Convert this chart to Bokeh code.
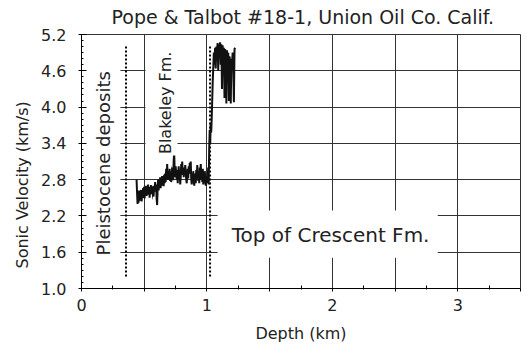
from bokeh.plotting import figure
from bokeh.models import Range1d, FixedTicker, PrintfTickFormatter, BoxAnnotation, Label, Title
from bokeh.embed import file_html
from bokeh.resources import INLINE

# Sonic log, Pope & Talbot #18-1 well: depth (km) vs. interval velocity (km/s)
depth_km = [
    0.439, 0.443, 0.447, 0.451, 0.455, 0.459, 0.463, 0.467, 0.471, 0.475,
    0.479, 0.483, 0.487, 0.491, 0.495, 0.499, 0.503, 0.507, 0.511, 0.515,
    0.519, 0.523, 0.527, 0.531, 0.535, 0.539, 0.543, 0.547, 0.551, 0.555,
    0.559, 0.563, 0.567, 0.571, 0.575, 0.579, 0.583, 0.587, 0.591, 0.595,
    0.599, 0.603, 0.607, 0.611, 0.615, 0.619, 0.623, 0.627, 0.631, 0.635,
    0.639, 0.643, 0.647, 0.651, 0.655, 0.659, 0.663, 0.667, 0.671, 0.675,
    0.679, 0.683, 0.687, 0.691, 0.695, 0.699, 0.703, 0.707, 0.711, 0.715,
    0.719, 0.723, 0.727, 0.731, 0.735, 0.739, 0.743, 0.747, 0.751, 0.755,
    0.759, 0.763, 0.767, 0.771, 0.775, 0.779, 0.783, 0.787, 0.791, 0.795,
    0.799, 0.803, 0.807, 0.811, 0.815, 0.819, 0.823, 0.827, 0.831, 0.835,
    0.839, 0.843, 0.847, 0.851, 0.855, 0.859, 0.863, 0.867, 0.871, 0.875,
    0.879, 0.883, 0.887, 0.891, 0.895, 0.899, 0.903, 0.907, 0.911, 0.915,
    0.919, 0.923, 0.927, 0.931, 0.935, 0.939, 0.943, 0.947, 0.951, 0.955,
    0.959, 0.963, 0.967, 0.971, 0.975, 0.979, 0.983, 0.987, 0.991, 0.995,
    1.000, 1.005, 1.010, 1.014, 1.018, 1.022, 1.026, 1.030, 1.034, 1.038,
    1.042, 1.046, 1.050, 1.055, 1.060, 1.065, 1.070, 1.075, 1.080, 1.085,
    1.090, 1.095, 1.100, 1.105, 1.110, 1.115, 1.120, 1.125, 1.130, 1.135,
    1.140, 1.145, 1.150, 1.155, 1.160, 1.165, 1.170, 1.175, 1.180, 1.185,
    1.190, 1.195, 1.200, 1.205, 1.210, 1.215, 1.220, 1.225,
]
velocity_kms = [
    2.80, 2.58, 2.40, 2.55, 2.42, 2.62, 2.45, 2.58, 2.48, 2.63,
    2.44, 2.57, 2.50, 2.66, 2.52, 2.68, 2.49, 2.62, 2.54, 2.70,
    2.53, 2.66, 2.58, 2.72, 2.55, 2.68, 2.50, 2.64, 2.57, 2.71,
    2.56, 2.69, 2.60, 2.66, 2.52, 2.70, 2.62, 2.76, 2.60, 2.72,
    2.48, 2.38, 2.65, 2.80, 2.62, 2.76, 2.68, 2.84, 2.66, 2.79,
    2.70, 2.86, 2.72, 2.82, 2.69, 2.88, 2.74, 2.90, 2.76, 2.98,
    2.80, 3.06, 2.86, 2.80, 2.94, 2.84, 2.98, 2.78, 2.92, 2.76,
    2.88, 2.82, 3.00, 2.79, 3.12, 3.24, 2.95, 2.84, 3.02, 2.88,
    2.80, 2.96, 2.74, 2.90, 3.02, 2.86, 2.92, 2.72, 2.84, 3.06,
    2.98, 3.10, 2.88, 2.96, 2.84, 3.00, 2.90, 3.04, 2.92, 2.80,
    2.74, 2.88, 2.98, 2.82, 3.02, 2.90, 3.08, 2.96, 3.10, 2.80,
    2.72, 2.86, 2.76, 2.94, 2.78, 2.70, 2.84, 2.90, 2.74, 2.96,
    2.82, 3.04, 2.88, 2.78, 2.92, 2.74, 3.00, 2.86, 3.06, 2.80,
    2.92, 2.76, 2.98, 2.72, 2.86, 2.76, 2.94, 2.78, 2.70, 2.84,
    2.84, 2.74, 3.00, 2.72, 3.30, 3.62, 3.40, 3.74, 3.58, 3.80,
    4.10, 4.40, 4.62, 4.90, 4.70, 4.98, 4.64, 5.00, 4.88, 5.06,
    4.60, 5.04, 4.92, 5.07, 4.70, 5.04, 4.30, 5.02, 4.85, 4.98,
    4.15, 4.96, 4.88, 4.06, 4.94, 4.80, 4.90, 4.10, 4.84, 4.75,
    4.06, 4.80, 4.72, 4.90, 4.60, 4.08, 4.96, 4.98,
]

# Formation boundaries picked on the log (dotted markers)
boundary_depth_km = [0.355, 1.025]
boundary_bottom_kms = [1.2, 1.2]
boundary_top_kms = [5.02, 5.02]

x_ticks = [0.0, 0.5, 1.0, 1.5, 2.0, 2.5, 3.0, 3.5]
x_tick_labels = ["0", "", "1", "", "2", "", "3", ""]
x_minor_ticks = [0.25, 0.75, 1.25, 1.75, 2.25, 2.75, 3.25]
y_ticks = [1.0, 1.6, 2.2, 2.8, 3.4, 4.0, 4.6, 5.2]
y_minor_ticks = [round(1.0 + 0.1 * i, 1) for i in range(43)]

FONT = "DejaVu Sans"
INK = "#222222"
GRID = "#333333"

p = figure(
    width=532, height=356,
    x_range=Range1d(0, 3.5), y_range=Range1d(1.0, 5.2),
    output_backend="svg", toolbar_location=None,
    min_border_left=81, min_border_right=12,
    min_border_top=34, min_border_bottom=68,
    background_fill_color="white", border_fill_color="white",
)
p.outline_line_color = GRID
p.outline_line_width = 1

# title, placed from the left edge of the frame
p.title.text = "Pope & Talbot #18-1, Union Oil Co. Calif."
p.title.align = "left"
p.title.offset = 30
p.title.vertical_align = "top"
p.title.text_font = FONT
p.title.text_font_size = "19px"
p.title.text_font_style = "normal"
p.title.text_color = INK
p.title.standoff = 10

# vertical axis title as a side title so it can be shifted along the axis
p.add_layout(Title(text="Sonic Velocity (km/s)", align="left", offset=20,
                   text_font=FONT, text_font_size="16px", text_font_style="normal",
                   text_color=INK, standoff=14), "left")

# grid every 0.5 km and every 0.6 km/s
p.xgrid.ticker = FixedTicker(ticks=x_ticks)
p.ygrid.ticker = FixedTicker(ticks=y_ticks)
p.grid.grid_line_color = GRID
p.grid.grid_line_width = 1

# axes
p.xaxis.ticker = FixedTicker(ticks=x_ticks, minor_ticks=x_minor_ticks)
p.xaxis.major_label_overrides = dict(zip(x_ticks, x_tick_labels))
p.yaxis.ticker = FixedTicker(ticks=y_ticks, minor_ticks=y_minor_ticks)
p.yaxis.formatter = PrintfTickFormatter(format="%.1f")

p.axis.axis_line_color = "black"
p.axis.axis_line_width = 1
p.axis.major_tick_line_color = "black"
p.axis.minor_tick_line_color = "black"
p.axis.major_label_text_font = FONT
p.axis.major_label_text_font_size = "16px"
p.axis.major_label_text_color = INK

p.xaxis.axis_label = "Depth (km)"
p.xaxis.axis_label_text_font = FONT
p.xaxis.axis_label_text_font_size = "16px"
p.xaxis.axis_label_text_font_style = "normal"
p.xaxis.axis_label_text_color = INK
p.xaxis.axis_label_standoff = 10

p.xaxis.major_tick_in = 0
p.xaxis.major_tick_out = 3
p.xaxis.minor_tick_in = 3
p.xaxis.minor_tick_out = 1
p.xaxis.major_label_standoff = 7

p.yaxis.major_tick_in = 5
p.yaxis.major_tick_out = 3
p.yaxis.minor_tick_in = 2
p.yaxis.minor_tick_out = 0
p.yaxis.major_label_standoff = 12

# white panels behind the formation names
for l, r, b, t in [(0.0, 0.31, 1.05, 5.15), (0.51, 0.765, 3.2, 5.15), (1.085, 2.84, 1.51, 2.29)]:
    p.add_layout(BoxAnnotation(left=l, right=r, bottom=b, top=t,
                               fill_color="white", fill_alpha=1.0,
                               line_alpha=0.0, level="glyph"))

# boundary markers and the velocity log
p.segment(x0=boundary_depth_km, y0=boundary_bottom_kms,
          x1=boundary_depth_km, y1=boundary_top_kms,
          line_color="black", line_width=2, line_dash="2 2")
p.line(depth_km, velocity_kms, line_color="#111111", line_width=2,
       line_join="miter")


def add_text(x, y, text, size, angle=0):
    p.add_layout(Label(x=x, y=y, text=text, angle=angle, angle_units="deg",
                       text_align="center", text_baseline="middle",
                       text_font=FONT, text_font_size=size, text_color=INK))


# formation names
add_text(0.175, 3.07, "Pleistocene deposits", "18px", angle=90)
add_text(0.67, 4.07, "Blakeley Fm.", "16px", angle=90)
add_text(1.986, 1.88, "Top of Crescent Fm.", "20px")

open("out.html", "w").write(file_html(p, INLINE))
